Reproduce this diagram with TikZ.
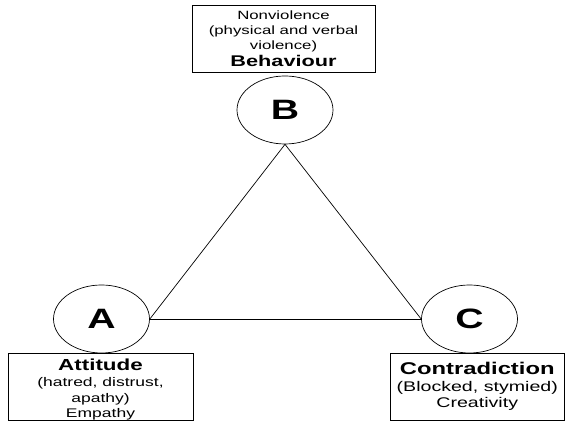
\documentclass[tikz,border=0pt]{standalone}
\usepackage{fontspec}
\usepackage{graphicx}
\setmainfont{Liberation Sans}
\usetikzlibrary{shapes.geometric}
\newcommand{\wide}[1]{\scalebox{1.4}[1]{#1}}
\begin{document}
\begin{tikzpicture}[x=1pt,y=1pt,line width=0.7pt,
  vertex/.style={draw,ellipse,minimum width=96pt,minimum height=68pt,inner sep=0pt,
    font=\fontsize{28}{30}\selectfont\bfseries},
  infobox/.style={draw,rectangle,inner sep=0pt,align=center},
  infotext/.style={inner sep=0pt,align=center}]
\useasboundingbox (0,0) rectangle (565,422);
\node[vertex] (b) at (285,312) {\wide{B}};
\node[vertex] (a) at (101.5,103) {\wide{A}};
\node[vertex] (c) at (469.5,103) {\wide{C}};
\draw (a.east) -- (c.west);
\draw (a.east) -- (b.south) -- (c.west);
\node[infobox,minimum width=183pt,minimum height=67pt,font=\fontsize{12}{15}\selectfont] (bbox) at (283.5,383.5)
  {\wide{Nonviolence}\\\wide{(physical and verbal}\\\wide{violence)}\\[1.5pt]\wide{\fontsize{15.5}{15}\selectfont\bfseries Behaviour}};
\node[infobox,minimum width=185pt,minimum height=67.5pt] (abox) at (100.5,35.25) {};
\node[infotext,font=\fontsize{12.5}{14.5}\selectfont] (atext) at (100.5,32.5)
  {\wide{\fontsize{16}{16}\selectfont\bfseries Attitude}\\[2pt]\wide{(hatred, distrust,}\\[1.5pt]\wide{apathy)}\\[0.5pt]\wide{Empathy}};
\node[infobox,minimum width=174.5pt,minimum height=67pt,font=\fontsize{14}{16.5}\selectfont] (cbox) at (477.25,35.5)
  {\wide{\fontsize{17}{17}\selectfont\bfseries Contradiction}\\[0pt]\wide{(Blocked, stymied)}\\\wide{Creativity}};
\end{tikzpicture}
\end{document}
